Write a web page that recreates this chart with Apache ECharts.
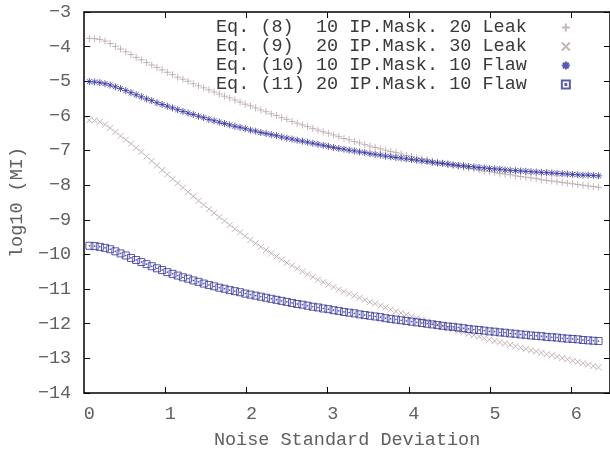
<!DOCTYPE html>
<html>
<head>
<meta charset="utf-8">
<title>log10 (MI) vs noise</title>
<script src="https://cdn.jsdelivr.net/npm/echarts@6/dist/echarts.min.js"></script>
<style>
  html, body { margin: 0; padding: 0; background: #fff; }
  #main { width: 610px; height: 455px; }
</style>
</head>
<body>
<div id="main"></div>
<script>
// noise standard deviation (x positions of the markers)
const sigma = [
  0.064, 0.128, 0.192, 0.256, 0.32, 0.384, 0.448, 0.512, 0.576, 0.64,
  0.704, 0.768, 0.832, 0.896, 0.96, 1.024, 1.088, 1.152, 1.216, 1.28,
  1.344, 1.408, 1.472, 1.536, 1.6, 1.664, 1.728, 1.792, 1.856, 1.92,
  1.984, 2.048, 2.112, 2.176, 2.24, 2.304, 2.368, 2.432, 2.496, 2.56,
  2.624, 2.688, 2.752, 2.816, 2.88, 2.944, 3.008, 3.072, 3.136, 3.2,
  3.264, 3.328, 3.392, 3.456, 3.52, 3.584, 3.648, 3.712, 3.776, 3.84,
  3.904, 3.968, 4.032, 4.096, 4.16, 4.224, 4.288, 4.352, 4.416, 4.48,
  4.544, 4.608, 4.672, 4.736, 4.8, 4.864, 4.928, 4.992, 5.056, 5.12,
  5.184, 5.248, 5.312, 5.376, 5.44, 5.504, 5.568, 5.632, 5.696, 5.76,
  5.824, 5.888, 5.952, 6.016, 6.08, 6.144, 6.208, 6.272, 6.336
]

// log10 (MI) for each equation
const eq8 = [
  -3.76, -3.77, -3.79, -3.84, -3.91, -3.99, -4.07, -4.15, -4.23, -4.31,
  -4.38, -4.46, -4.53, -4.60, -4.67, -4.74, -4.81, -4.88, -4.94, -5.00,
  -5.07, -5.13, -5.19, -5.25, -5.31, -5.37, -5.43, -5.48, -5.54, -5.60,
  -5.66, -5.71, -5.77, -5.83, -5.88, -5.94, -5.99, -6.05, -6.10, -6.16,
  -6.21, -6.26, -6.31, -6.36, -6.41, -6.46, -6.50, -6.55, -6.60, -6.65,
  -6.69, -6.74, -6.78, -6.83, -6.87, -6.91, -6.95, -6.99, -7.03, -7.06,
  -7.10, -7.14, -7.17, -7.21, -7.24, -7.27, -7.30, -7.34, -7.37, -7.40,
  -7.43, -7.45, -7.48, -7.51, -7.53, -7.56, -7.59, -7.61, -7.63, -7.66,
  -7.68, -7.70, -7.73, -7.75, -7.77, -7.79, -7.81, -7.84, -7.86, -7.88,
  -7.90, -7.92, -7.94, -7.96, -7.98, -8.00, -8.02, -8.04, -8.06
]
const eq9 = [
  -6.12, -6.13, -6.17, -6.25, -6.35, -6.46, -6.58, -6.69, -6.80, -6.92,
  -7.04, -7.17, -7.30, -7.43, -7.56, -7.69, -7.82, -7.94, -8.07, -8.20,
  -8.32, -8.45, -8.57, -8.69, -8.80, -8.92, -9.03, -9.15, -9.26, -9.36,
  -9.47, -9.58, -9.68, -9.78, -9.87, -9.97, -10.06, -10.15, -10.24, -10.32,
  -10.41, -10.49, -10.57, -10.65, -10.73, -10.80, -10.87, -10.94, -11.01, -11.07,
  -11.13, -11.19, -11.25, -11.31, -11.37, -11.42, -11.48, -11.53, -11.59, -11.64,
  -11.69, -11.74, -11.79, -11.84, -11.88, -11.93, -11.98, -12.03, -12.07, -12.12,
  -12.16, -12.21, -12.25, -12.29, -12.33, -12.37, -12.42, -12.46, -12.50, -12.54,
  -12.57, -12.61, -12.65, -12.69, -12.73, -12.77, -12.80, -12.84, -12.88, -12.91,
  -12.95, -12.99, -13.03, -13.07, -13.10, -13.14, -13.18, -13.22, -13.26
]
const eq10 = [
  -5.01, -5.02, -5.04, -5.07, -5.11, -5.16, -5.21, -5.27, -5.33, -5.39,
  -5.45, -5.51, -5.56, -5.62, -5.67, -5.72, -5.77, -5.82, -5.87, -5.92,
  -5.96, -6.01, -6.05, -6.10, -6.14, -6.18, -6.22, -6.26, -6.30, -6.33,
  -6.37, -6.41, -6.44, -6.48, -6.51, -6.54, -6.57, -6.61, -6.64, -6.67,
  -6.70, -6.73, -6.76, -6.79, -6.82, -6.85, -6.88, -6.91, -6.94, -6.96,
  -6.99, -7.01, -7.04, -7.06, -7.09, -7.11, -7.13, -7.16, -7.18, -7.20,
  -7.22, -7.24, -7.26, -7.28, -7.30, -7.32, -7.34, -7.36, -7.37, -7.39,
  -7.41, -7.43, -7.44, -7.46, -7.47, -7.49, -7.50, -7.52, -7.53, -7.54,
  -7.56, -7.57, -7.58, -7.59, -7.60, -7.61, -7.62, -7.63, -7.64, -7.65,
  -7.66, -7.67, -7.68, -7.69, -7.70, -7.71, -7.71, -7.72, -7.73
]
const eq11 = [
  -9.75, -9.76, -9.78, -9.81, -9.85, -9.91, -9.97, -10.03, -10.10, -10.16,
  -10.22, -10.28, -10.34, -10.40, -10.45, -10.51, -10.56, -10.61, -10.66, -10.70,
  -10.75, -10.79, -10.84, -10.88, -10.92, -10.96, -10.99, -11.03, -11.06, -11.09,
  -11.13, -11.16, -11.19, -11.22, -11.25, -11.28, -11.31, -11.34, -11.37, -11.40,
  -11.43, -11.45, -11.48, -11.51, -11.53, -11.56, -11.58, -11.61, -11.63, -11.66,
  -11.68, -11.70, -11.73, -11.75, -11.77, -11.79, -11.81, -11.84, -11.86, -11.88,
  -11.90, -11.92, -11.94, -11.96, -11.98, -12.00, -12.02, -12.04, -12.06, -12.08,
  -12.09, -12.11, -12.13, -12.15, -12.17, -12.18, -12.20, -12.22, -12.23, -12.25,
  -12.26, -12.28, -12.29, -12.31, -12.32, -12.34, -12.35, -12.36, -12.38, -12.39,
  -12.40, -12.42, -12.43, -12.44, -12.45, -12.47, -12.48, -12.49, -12.50
]

const names = [
  'Eq. (8)  10 IP.Mask. 20 Leak',
  'Eq. (9)  20 IP.Mask. 30 Leak',
  'Eq. (10) 10 IP.Mask. 10 Flaw',
  'Eq. (11) 20 IP.Mask. 10 Flaw'
]
const xTicks = [0, 1, 2, 3, 4, 5, 6]

const FONT = '"Liberation Mono", "DejaVu Sans Mono", monospace'
const FS = 18.5
const GREY = '#b5a3a5'
const BLUE = '#2f2f9e'
const TEXT = '#606060'

// gnuplot-like point types
const PLUS = 'path://M0,5L10,5M5,0L5,10'
const CROSS = 'path://M0,0L10,10M10,0L0,10'
const STAR = 'path://M0,5L10,5M5,0L5,10M1.5,1.5L8.5,8.5M8.5,1.5L1.5,8.5'
const BOX = 'path://M0,0L10,0L10,10L0,10ZM4.5,4.5L5.5,4.5L5.5,5.5L4.5,5.5Z'

function pts (ys) {
  return sigma.map((s, i) => [s, ys[i]])
}

function mkSeries (name, ys, symbol, color, size) {
  return {
    name: name,
    type: 'scatter',
    data: pts(ys),
    symbol: symbol,
    symbolSize: size,
    itemStyle: { color: 'transparent', borderColor: color, borderWidth: 1 },
    emphasis: { disabled: true },
    silent: true
  }
}

const minus = v => String(v).replace('-', '\u2212')

const frame = { show: true, onZero: false, lineStyle: { color: '#000', width: 1.5 } }
const tick = { show: true, inside: true, length: 6, lineStyle: { color: '#000', width: 1 } }

const myChart = echarts.init(document.getElementById('main'))

const option = {
  animation: false,
  backgroundColor: '#fff',
  grid: { left: 81, right: -1, top: 12, bottom: 55, containLabel: false },
  legend: {
    orient: 'vertical',
    left: 216,
    top: 18,
    align: 'right',
    padding: 0,
    itemGap: 0,
    itemWidth: 8,
    itemHeight: 8,
    selectedMode: false,
    data: names,
    textStyle: {
      fontFamily: FONT,
      fontSize: FS,
      color: '#3a3a3a',
      lineHeight: 19,
      padding: [0, 30, 0, 0]
    }
  },
  xAxis: [
    {
      type: 'value',
      min: 0,
      max: 6.477,
      position: 'bottom',
      axisLine: frame,
      axisTick: Object.assign({}, tick, { customValues: xTicks.slice(1) }),
      axisLabel: {
        customValues: xTicks,
        margin: 12,
        color: TEXT,
        fontFamily: FONT,
        fontSize: FS,
        padding: [0, 0, 0, 10]
      },
      splitLine: { show: false },
      name: 'Noise Standard Deviation',
      nameLocation: 'middle',
      nameGap: 38,
      nameTextStyle: { color: TEXT, fontFamily: FONT, fontSize: FS }
    },
    {
      type: 'value',
      min: 0,
      max: 6.477,
      position: 'top',
      axisLine: frame,
      axisTick: Object.assign({}, tick, { customValues: xTicks.slice(1) }),
      axisLabel: { show: false },
      splitLine: { show: false }
    }
  ],
  yAxis: [
    {
      type: 'value',
      min: -14,
      max: -3,
      interval: 1,
      position: 'left',
      axisLine: frame,
      axisTick: tick,
      axisLabel: {
        margin: 13,
        color: TEXT,
        fontFamily: FONT,
        fontSize: FS,
        formatter: minus
      },
      splitLine: { show: false },
      name: 'log10 (MI)',
      nameLocation: 'middle',
      nameRotate: 90,
      nameGap: 54,
      nameTextStyle: { color: TEXT, fontFamily: FONT, fontSize: FS }
    },
    {
      type: 'value',
      min: -14,
      max: -3,
      interval: 1,
      position: 'right',
      axisLine: frame,
      axisTick: tick,
      axisLabel: { show: false },
      splitLine: { show: false }
    }
  ],
  series: [
    mkSeries(names[0], eq8, PLUS, GREY, 7),
    mkSeries(names[1], eq9, CROSS, GREY, 6),
    mkSeries(names[2], eq10, STAR, BLUE, 7),
    mkSeries(names[3], eq11, BOX, BLUE, 7)
  ]
}

myChart.setOption(option)
</script>
</body>
</html>
